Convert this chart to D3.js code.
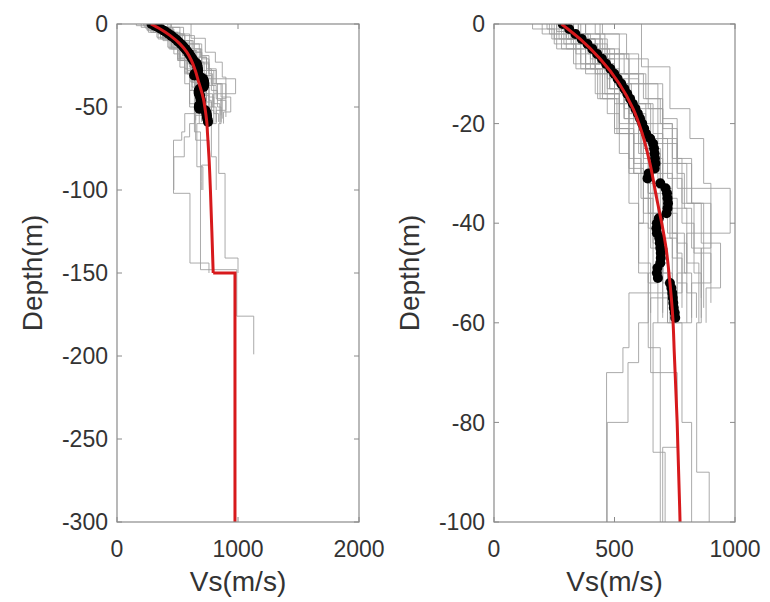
<!DOCTYPE html>
<html>
<head>
<meta charset="utf-8">
<script src="https://cdn.jsdelivr.net/npm/d3@7/dist/d3.min.js"></script>
<style>
body { margin: 0; background: #fff; }
svg { display: block; }
</style>
</head>
<body>
<div id="chart"></div>
<script>
// mean Vs profile (smooth part) : depth in m, Vs in m/s
var meanDepth = [0, 3, 7, 12, 17, 22, 28, 35, 41, 45, 51, 59, 66, 80, 100, 125, 150];
var meanVs = [280, 357, 440, 520, 577, 615, 647, 675, 700, 714, 728, 742, 748, 760, 772, 784, 795];
// mean profile below 150 m (step to half-space)
var stepDepth = [150, 150, 300];
var stepVs = [795, 975, 975];

// measured points, one per metre
var dotDepth = [0, 1, 2, 3, 4, 5, 6, 7, 8, 9, 10, 11, 12, 13, 14, 15, 16, 17, 18, 19,
  20, 21, 22, 23, 24, 25, 26, 27, 28, 29, 30, 31, 32, 33, 34, 35, 36, 37, 38, 39,
  40, 41, 42, 43, 44, 45, 46, 47, 48, 49, 50, 51, 52, 53, 54, 55, 56, 57, 58, 59];
var dotVs = [285, 312, 338, 364, 388, 408, 428, 448, 465, 483, 499, 513, 528, 541, 553, 565, 576, 587, 597, 606,
  615, 623, 631, 648, 660, 664, 666, 668, 670, 667, 642, 637, 690, 712, 718, 720, 722, 720, 716, 684,
  676, 674, 676, 686, 688, 690, 692, 692, 690, 678, 676, 680, 730, 736, 740, 742, 744, 746, 750, 752];

// individual inverted profiles: layer bottom depths and layer velocities
var profileBottoms = [
  [2, 5, 9, 14, 20, 27, 35, 45, 58],
  [3, 7, 12, 18, 25, 33, 42, 52, 60],
  [1.5, 4, 8, 13, 19, 26, 34, 43, 55],
  [4, 10, 16, 23, 31, 40, 50, 59],
  [2, 6, 11, 17, 24, 30, 38, 47, 57],
  [5, 12, 20, 28, 37, 48, 60],
  [3, 8, 14, 21, 29, 38, 49, 59],
  [2, 5, 10, 16, 22, 30, 38, 46, 54, 65, 70, 102, 144, 150],
  [3, 8, 15, 22, 30, 40, 50, 60, 68, 80, 100],
  [8.6, 17, 23, 32, 45, 60, 90, 141, 150],
  [2, 6, 12, 20, 28, 36, 44, 52, 60, 86, 100],
  [3, 7, 13, 20, 28, 38, 50, 65, 100, 148, 176, 199],
  [2, 5, 9, 15, 22, 30, 40, 52, 60],
  [3, 6, 10, 15, 21, 28, 36, 44, 53, 60],
  [4, 9, 15, 22, 30, 38, 48, 58],
  [2, 4, 8, 12, 18, 25, 33, 42, 50, 59],
  [6, 11, 17, 24, 33, 42, 50, 58],
  [3, 7, 12, 17, 23, 30, 37, 45, 55],
  [2, 5, 10, 16, 24, 32, 41, 50, 59],
  [1, 4, 9, 14, 21, 28, 35, 44, 52, 60],
  [3, 8, 13, 19, 26, 34, 43, 55, 70, 85, 95, 100],
  [2, 6, 10, 15, 20, 27, 36, 46, 57],
  [4, 8, 14, 20, 27, 35, 44, 54, 59],
  [5, 10, 18, 26, 36, 48, 58],
  [2, 7, 12, 19, 27, 36, 46, 56],
  [3, 9, 16, 24, 34, 45, 60, 80, 100],
  [1, 3, 6, 10, 16, 22, 30, 40, 50, 60]
];
var profileVs = [
  [230, 300, 380, 450, 520, 560, 610, 650, 700],
  [320, 420, 500, 560, 620, 680, 720, 760, 800],
  [260, 350, 430, 480, 540, 600, 640, 690, 740],
  [350, 470, 560, 650, 720, 780, 830, 860],
  [300, 390, 470, 540, 600, 660, 700, 740, 780],
  [380, 500, 600, 680, 740, 800, 850],
  [240, 330, 420, 500, 560, 620, 660, 700],
  [330, 440, 520, 600, 660, 700, 740, 760, 780, 560, 535, 467, 603, 760],
  [270, 360, 450, 520, 580, 620, 600, 640, 600, 556, 470],
  [612, 730, 813, 870, 900, 860, 841, 893, 1000],
  [420, 520, 600, 680, 740, 800, 860, 900, 820, 660, 710],
  [300, 400, 480, 560, 620, 660, 700, 640, 690, 690, 990, 1130],
  [200, 280, 360, 440, 500, 560, 600, 640, 680],
  [350, 450, 540, 620, 700, 760, 820, 900, 940, 880],
  [250, 340, 430, 510, 580, 640, 690, 720],
  [280, 360, 420, 500, 570, 630, 690, 740, 790, 820],
  [440, 520, 600, 700, 760, 980, 800, 760],
  [380, 470, 560, 640, 700, 760, 790, 820, 860],
  [330, 400, 480, 560, 630, 700, 640, 700, 740],
  [220, 320, 400, 460, 520, 580, 620, 660, 700, 730],
  [300, 380, 470, 540, 610, 690, 730, 760, 650, 760, 700, 700],
  [360, 460, 560, 630, 690, 740, 780, 830, 870],
  [290, 410, 500, 560, 620, 700, 760, 800, 840],
  [260, 380, 470, 520, 560, 600, 650],
  [450, 550, 640, 700, 760, 820, 870, 900],
  [310, 420, 520, 580, 640, 680, 720, 780, 820],
  [160, 250, 340, 420, 500, 560, 610, 650, 690, 720]
];

var leftXTicks = [0, 1000, 2000];
var leftYTicks = [0, -50, -100, -150, -200, -250, -300];
var rightXTicks = [0, 500, 1000];
var rightYTicks = [0, -20, -40, -60, -80, -100];

var W = 770, H = 602;
var svg = d3.select("#chart").append("svg")
  .attr("width", W).attr("height", H);
svg.append("rect").attr("width", W).attr("height", H).attr("fill", "#fff");

var FONT = "'Liberation Sans', Arial, sans-serif";

// turn a layered profile into step line points
function stepPoints(bottoms, vs) {
  var pts = [];
  var top = 0;
  for (var i = 0; i < bottoms.length; i++) {
    pts.push([vs[i], top]);
    pts.push([vs[i], bottoms[i]]);
    top = bottoms[i];
  }
  return pts;
}

function drawPanel(id, x0, x1, xMax, yMin, xTicks, yTicks) {
  var top = 24, bottom = 522;
  var x = d3.scaleLinear().domain([0, xMax]).range([x0, x1]);
  var y = d3.scaleLinear().domain([yMin, 0]).range([bottom, top]);
  var g = svg.append("g");

  g.append("clipPath").attr("id", "clip-" + id)
    .append("rect").attr("x", x0).attr("y", top)
    .attr("width", x1 - x0).attr("height", bottom - top);

  var plot = g.append("g").attr("clip-path", "url(#clip-" + id + ")");

  var line = d3.line()
    .x(function(d) { return x(d[0]); })
    .y(function(d) { return y(-d[1]); });

  // grey individual profiles
  profileBottoms.forEach(function(b, i) {
    plot.append("path")
      .attr("d", line(stepPoints(b, profileVs[i])))
      .attr("fill", "none")
      .attr("stroke", "#9c9c9c")
      .attr("stroke-width", 1)
      .attr("stroke-opacity", 0.85);
  });

  // black measured points
  plot.selectAll("circle.dot").data(dotDepth).enter()
    .append("circle").attr("class", "dot")
    .attr("cx", function(d, i) { return x(dotVs[i]); })
    .attr("cy", function(d) { return y(-d); })
    .attr("r", 5)
    .attr("fill", "#000");

  // red mean profile
  var smooth = meanDepth.map(function(d, i) { return [meanVs[i], d]; });
  plot.append("path")
    .attr("d", line.curve(d3.curveMonotoneY)(smooth))
    .attr("fill", "none").attr("stroke", "#d7191c").attr("stroke-width", 3);
  line.curve(d3.curveLinear);
  var step = stepDepth.map(function(d, i) { return [stepVs[i], d]; });
  plot.append("path")
    .attr("d", line(step))
    .attr("fill", "none").attr("stroke", "#d7191c").attr("stroke-width", 3);

  // box and inward ticks
  var axCol = "#8a8a8a";
  g.append("rect").attr("x", x0).attr("y", top)
    .attr("width", x1 - x0).attr("height", bottom - top)
    .attr("fill", "none").attr("stroke", axCol).attr("stroke-width", 1.2);

  xTicks.forEach(function(t) {
    g.append("line").attr("x1", x(t)).attr("x2", x(t))
      .attr("y1", bottom).attr("y2", bottom - 5).attr("stroke", axCol);
    g.append("line").attr("x1", x(t)).attr("x2", x(t))
      .attr("y1", top).attr("y2", top + 5).attr("stroke", axCol);
    g.append("text").attr("x", x(t)).attr("y", 557)
      .attr("text-anchor", "middle")
      .style("font-family", FONT).style("font-size", "23px")
      .style("fill", "#333").text(t);
  });
  yTicks.forEach(function(t) {
    g.append("line").attr("x1", x0).attr("x2", x0 + 5)
      .attr("y1", y(t)).attr("y2", y(t)).attr("stroke", axCol);
    g.append("line").attr("x1", x1).attr("x2", x1 - 5)
      .attr("y1", y(t)).attr("y2", y(t)).attr("stroke", axCol);
    g.append("text").attr("x", x0 - 9).attr("y", y(t))
      .attr("dy", "0.36em")
      .attr("text-anchor", "end")
      .style("font-family", FONT).style("font-size", "23px")
      .style("fill", "#333").text(t);
  });

  // axis titles
  g.append("text").attr("x", (x0 + x1) / 2).attr("y", 591)
    .attr("text-anchor", "middle")
    .style("font-family", FONT).style("font-size", "28px")
    .style("fill", "#333").text("Vs(m/s)");
  g.append("text")
    .attr("transform", "translate(" + (x0 - 85) + "," + ((top + bottom) / 2) + ") rotate(-90)")
    .attr("dy", "0.35em")
    .attr("text-anchor", "middle")
    .style("font-family", FONT).style("font-size", "28px")
    .style("fill", "#333").text("Depth(m)");
}

drawPanel("left", 117, 359, 2000, -300, leftXTicks, leftYTicks);
drawPanel("right", 494, 735, 1000, -100, rightXTicks, rightYTicks);
</script>
</body>
</html>
